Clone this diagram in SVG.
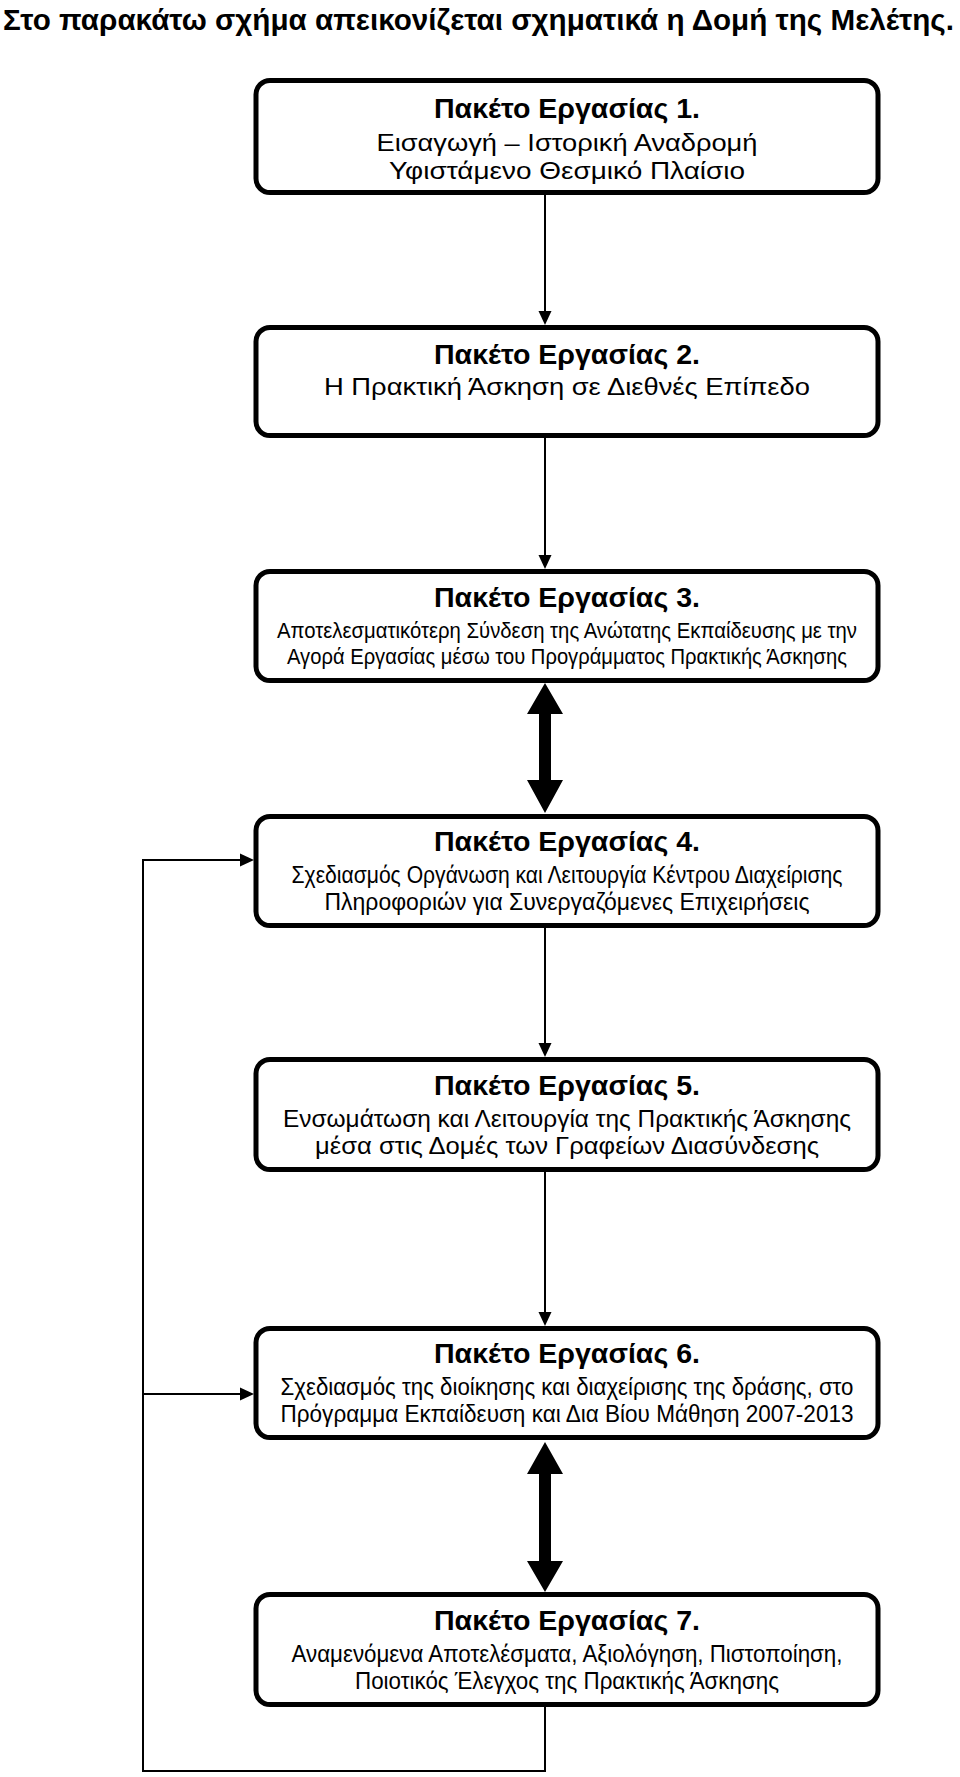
<svg xmlns="http://www.w3.org/2000/svg" width="960" height="1777" viewBox="0 0 960 1777">
<style>
.box{fill:#fff;stroke:#000;stroke-width:5}
.h{font-family:"Liberation Sans Narrow","Liberation Sans",Arial,sans-serif;font-weight:bold;font-size:27px;fill:#000;text-anchor:middle}
.b{font-family:"Liberation Sans Narrow","Liberation Sans",Arial,sans-serif;font-size:24px;fill:#000;text-anchor:middle}
.title{font-family:"Liberation Sans Narrow","Liberation Sans",Arial,sans-serif;font-weight:bold;font-size:29px;fill:#000}
.ln{fill:none;stroke:#000;stroke-width:2}
.ah{fill:#000}
</style>
<rect width="960" height="1777" fill="#fff"/>
<text class="title" x="3" y="30" textLength="951" lengthAdjust="spacingAndGlyphs">Στο παρακάτω σχήμα απεικονίζεται σχηματικά η Δομή της Μελέτης.</text>
<g id="connectors">
<line class="ln" x1="545" y1="195" x2="545" y2="312"/>
<polygon class="ah" points="538.5,311 551.5,311 545,325"/>
<line class="ln" x1="545" y1="438" x2="545" y2="556"/>
<polygon class="ah" points="538.5,555 551.5,555 545,569"/>
<line class="ln" x1="545" y1="928" x2="545" y2="1044"/>
<polygon class="ah" points="538.5,1043 551.5,1043 545,1057"/>
<line class="ln" x1="545" y1="1172" x2="545" y2="1313"/>
<polygon class="ah" points="538.5,1312 551.5,1312 545,1326"/>
<polygon class="ah" points="545,683 563,714 551,714 551,780 563,780 545,813 527,780 539,780 539,714 527,714"/>
<polygon class="ah" points="545,1442 563,1474 551,1474 551,1561 563,1561 545,1592 527,1561 539,1561 539,1474 527,1474"/>
<path class="ln" d="M545,1707 V1771 H143 V860 H241"/>
<polygon class="ah" points="240,853.5 240,866.5 254,860"/>
<path class="ln" d="M143,1394 H241"/>
<polygon class="ah" points="240,1387.5 240,1400.5 254,1394"/>
</g>
<g id="wp1">
<rect class="box" x="256" y="80.5" width="622" height="112" rx="14"/>
<text class="h" x="567" y="118" textLength="266" lengthAdjust="spacingAndGlyphs">Πακέτο Εργασίας 1.</text>
<text class="b" x="567" y="151" textLength="381" lengthAdjust="spacingAndGlyphs">Εισαγωγή – Ιστορική Αναδρομή</text>
<text class="b" x="567" y="179" textLength="356" lengthAdjust="spacingAndGlyphs">Υφιστάμενο Θεσμικό Πλαίσιο</text>
</g>
<g id="wp2">
<rect class="box" x="256" y="327.5" width="622" height="108" rx="14"/>
<text class="h" x="567" y="364" textLength="266" lengthAdjust="spacingAndGlyphs">Πακέτο Εργασίας 2.</text>
<text class="b" x="567" y="395" textLength="486" lengthAdjust="spacingAndGlyphs">Η Πρακτική Άσκηση σε Διεθνές Επίπεδο</text>
</g>
<g id="wp3">
<rect class="box" x="256" y="571.5" width="622" height="109" rx="14"/>
<text class="h" x="567" y="607" textLength="266" lengthAdjust="spacingAndGlyphs">Πακέτο Εργασίας 3.</text>
<text class="b" x="567" y="638" textLength="580" lengthAdjust="spacingAndGlyphs" style="font-size:21.5px">Αποτελεσματικότερη Σύνδεση της Ανώτατης Εκπαίδευσης με την</text>
<text class="b" x="567" y="664" textLength="560" lengthAdjust="spacingAndGlyphs" style="font-size:21.5px">Αγορά Εργασίας μέσω του Προγράμματος Πρακτικής Άσκησης</text>
</g>
<g id="wp4">
<rect class="box" x="256" y="816.5" width="622" height="109" rx="14"/>
<text class="h" x="567" y="851" textLength="266" lengthAdjust="spacingAndGlyphs">Πακέτο Εργασίας 4.</text>
<text class="b" x="567" y="883" textLength="551" lengthAdjust="spacingAndGlyphs">Σχεδιασμός Οργάνωση και Λειτουργία Κέντρου Διαχείρισης</text>
<text class="b" x="567" y="910" textLength="485" lengthAdjust="spacingAndGlyphs">Πληροφοριών για Συνεργαζόμενες Επιχειρήσεις</text>
</g>
<g id="wp5">
<rect class="box" x="256" y="1059.5" width="622" height="110" rx="14"/>
<text class="h" x="567" y="1095" textLength="266" lengthAdjust="spacingAndGlyphs">Πακέτο Εργασίας 5.</text>
<text class="b" x="567" y="1127" textLength="568" lengthAdjust="spacingAndGlyphs">Ενσωμάτωση και Λειτουργία της Πρακτικής Άσκησης</text>
<text class="b" x="567" y="1154" textLength="504" lengthAdjust="spacingAndGlyphs">μέσα στις Δομές των Γραφείων Διασύνδεσης</text>
</g>
<g id="wp6">
<rect class="box" x="256" y="1328.5" width="622" height="109" rx="14"/>
<text class="h" x="567" y="1363" textLength="266" lengthAdjust="spacingAndGlyphs">Πακέτο Εργασίας 6.</text>
<text class="b" x="567" y="1395" textLength="573" lengthAdjust="spacingAndGlyphs">Σχεδιασμός της διοίκησης και διαχείρισης της δράσης, στο</text>
<text class="b" x="567" y="1422" textLength="573" lengthAdjust="spacingAndGlyphs">Πρόγραμμα Εκπαίδευση και Δια Βίου Μάθηση 2007-2013</text>
</g>
<g id="wp7">
<rect class="box" x="256" y="1594.5" width="622" height="110" rx="14"/>
<text class="h" x="567" y="1630" textLength="266" lengthAdjust="spacingAndGlyphs">Πακέτο Εργασίας 7.</text>
<text class="b" x="567" y="1662" textLength="551" lengthAdjust="spacingAndGlyphs">Αναμενόμενα Αποτελέσματα, Αξιολόγηση, Πιστοποίηση,</text>
<text class="b" x="567" y="1689" textLength="424" lengthAdjust="spacingAndGlyphs">Ποιοτικός Έλεγχος της Πρακτικής Άσκησης</text>
</g>
</svg>
